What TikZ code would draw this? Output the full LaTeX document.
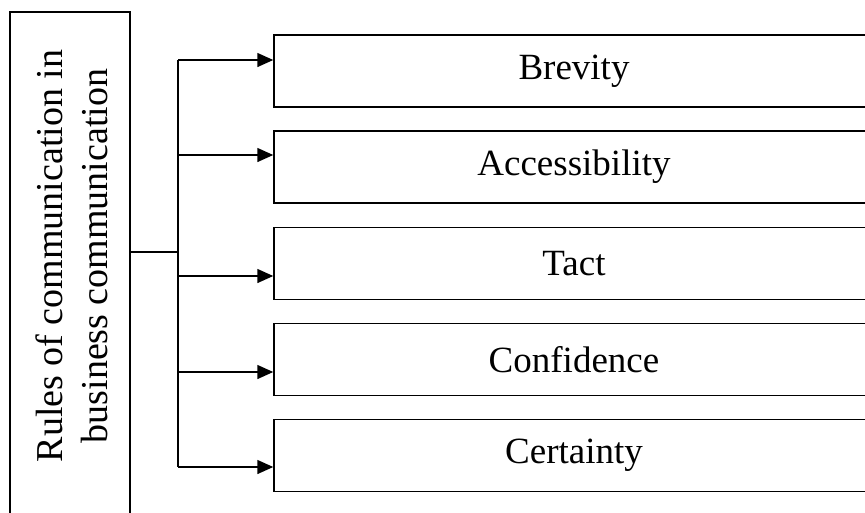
\documentclass[tikz,border=0pt]{standalone}
\usepackage{fontspec}
\setmainfont{Liberation Serif}
\usetikzlibrary{arrows.meta}
\begin{document}
\begin{tikzpicture}[x=1pt,y=-1pt,
  line width=1.5pt,
  itembox/.style={draw, rectangle, minimum width=600pt, minimum height=72pt, inner sep=0pt, font=\fontsize{37}{44}\selectfont},
  mainbox/.style={draw, rectangle, minimum width=120pt, minimum height=508pt, inner sep=0pt},
  maintext/.style={rotate=90, align=center, inner sep=0pt, font=\fontsize{38}{45}\selectfont},
  arr/.style={-{Triangle[length=16pt,width=14pt]}}]
\useasboundingbox (0,0) rectangle (865,512);
\clip (0,0) rectangle (865,512);
\node[mainbox] (rules) at (70,266) {};
\node[maintext] (rulestext) at (72,256) {Rules of communication in\\business communication};
\node[itembox] (b1) at (574,71) {Brevity};
\node[itembox] (b2) at (574,167) {Accessibility};
\node[itembox] (b3) at (574,263.5) {Tact};
\node[itembox] (b4) at (574,359.5) {Confidence};
\node[itembox] (b5) at (574,455.5) {Certainty};
\coordinate (t1) at (178,60);
\coordinate (t2) at (178,155);
\coordinate (t3) at (178,276);
\coordinate (t4) at (178,372);
\coordinate (t5) at (178,467);
\coordinate (tm) at (178,252);
\draw (t1) -- (t5);
\draw (tm -| rules.east) -- (tm);
\draw[arr] (t1) -- (t1 -| b1.west);
\draw[arr] (t2) -- (t2 -| b2.west);
\draw[arr] (t3) -- (t3 -| b3.west);
\draw[arr] (t4) -- (t4 -| b4.west);
\draw[arr] (t5) -- (t5 -| b5.west);
\end{tikzpicture}
\end{document}
